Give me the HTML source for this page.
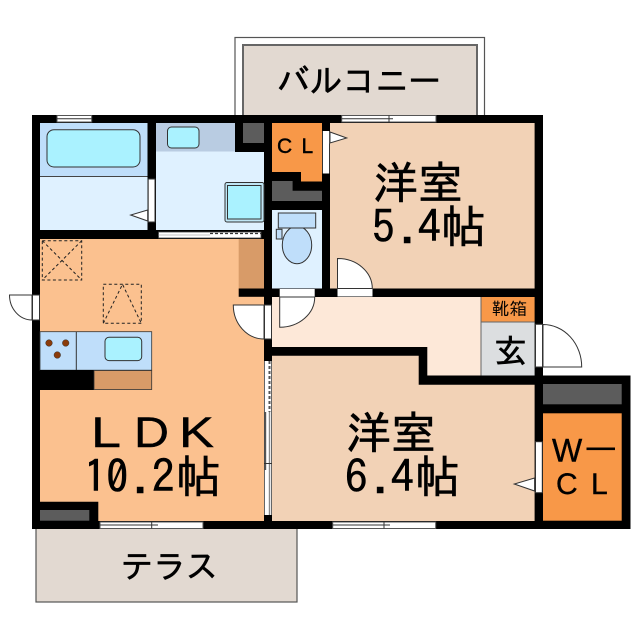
<!DOCTYPE html>
<html><head><meta charset="utf-8"><style>
html,body{margin:0;padding:0;background:#fff}
svg{display:block}
text{font-family:"IPAGothic","Liberation Sans","Noto Sans CJK JP",sans-serif;fill:#000}
.h{stroke:#000;stroke-width:.6}
.l{font-family:"Liberation Sans",sans-serif;stroke:#000;stroke-width:.4}
</style></head><body>
<svg width="640" height="640" viewBox="0 0 640 640" xmlns="http://www.w3.org/2000/svg">
<rect width="640" height="640" fill="#fff"/>
<!-- balcony -->
<rect x="235" y="37.5" width="249.5" height="80" fill="#fff" stroke="#555" stroke-width="1.2"/>
<rect x="243" y="45" width="234" height="75" fill="#e2d9d1" stroke="#666" stroke-width="2"/>
<!-- terrace -->
<rect x="36" y="525" width="261" height="77" fill="#e2d9d1" stroke="#555" stroke-width="1.2"/>
<!-- wall mass -->
<path d="M32 115H543V375.5H630.5V529H32Z" fill="#000"/>
<!-- rooms -->
<rect x="40" y="123" width="107.5" height="107" fill="#dff1ff"/>
<rect x="40" y="123" width="107.5" height="53" fill="#bfdefa"/>
<line x1="40" y1="176.5" x2="147.5" y2="176.5" stroke="#444" stroke-width="1"/>
<rect x="47" y="129.7" width="93" height="37.3" rx="7" fill="#aaf2ff" stroke="#333" stroke-width="1"/>
<rect x="156" y="123" width="108" height="107" fill="#dff1ff"/>
<rect x="156" y="123" width="79" height="28.5" fill="#b9cce2"/>
<rect x="235" y="123" width="29" height="29" fill="#000"/>
<rect x="243" y="123" width="21" height="20" fill="#5c5c5c"/>
<rect x="167.5" y="127" width="31.5" height="21" rx="4" fill="#aaf2ff" stroke="#333" stroke-width="1"/>
<rect x="225" y="182.5" width="39" height="39.5" rx="2" fill="#bfe6f5" stroke="#333" stroke-width="1"/>
<rect x="227.5" y="185.5" width="33.5" height="33.5" fill="#aaf2ff" stroke="#333" stroke-width="1"/>
<!-- CL -->
<path d="M272 123H322V181.5H301V172H272Z" fill="#f89848"/>
<path d="M272 181H292.6V190.7H322V201H272Z" fill="#5c5c5c"/>
<!-- toilet -->
<rect x="272" y="210" width="50" height="78.5" fill="#dff1ff"/>
<ellipse cx="297" cy="245" rx="14.7" ry="18.7" fill="#bfdefa" stroke="#333" stroke-width="1"/>
<rect x="278.3" y="213" width="37.4" height="15" fill="#bfdefa" stroke="#333" stroke-width="1"/>
<rect x="276.3" y="229.3" width="5.7" height="9.7" fill="#bfdefa" stroke="#333" stroke-width="1"/>
<!-- room 5.4 -->
<rect x="330" y="123" width="204.6" height="165.5" fill="#f2d2b6"/>
<!-- hall -->
<path d="M272 297H481V375.5H427.3V347H272Z" fill="#fde8d8"/>
<rect x="481" y="297" width="53.6" height="25" fill="#f89848"/>
<rect x="481" y="322" width="53.6" height="53.5" fill="#dcdee0"/>
<line x1="481" y1="297" x2="481" y2="375.5" stroke="#666" stroke-width="1"/>
<line x1="481" y1="322" x2="534.6" y2="322" stroke="#666" stroke-width="1"/>
<!-- LDK -->
<path d="M40 239H264V521H98.3V501.7H40Z" fill="#fbc18f"/>
<rect x="238.7" y="239" width="25.3" height="49.5" fill="#d89b68"/>
<rect x="238.7" y="288.5" width="30" height="8.3" fill="#000"/>
<rect x="40" y="510" width="49.3" height="10.7" fill="#5c5c5c"/>
<!-- kitchen -->
<rect x="40" y="331.7" width="111.7" height="38.5" fill="#bfdefa" stroke="#333" stroke-width="0.8"/>
<line x1="76.3" y1="331.7" x2="76.3" y2="370" stroke="#333" stroke-width="1"/>
<circle cx="49" cy="343" r="3.3" fill="#8a3b0a" stroke="#333" stroke-width=".5"/>
<circle cx="65.7" cy="343" r="3.3" fill="#8a3b0a" stroke="#333" stroke-width=".5"/>
<circle cx="57.3" cy="355" r="3.3" fill="#8a3b0a" stroke="#333" stroke-width=".5"/>
<rect x="105" y="337.3" width="36.7" height="23.3" rx="4" fill="#aaf2ff" stroke="#333" stroke-width="1"/>
<rect x="40" y="370" width="54" height="20" fill="#000"/>
<rect x="94" y="370.5" width="57.7" height="19" fill="#d89b68" stroke="#333" stroke-width=".8"/>
<!-- dashed -->
<g fill="none" stroke="#222" stroke-width="1" stroke-dasharray="3 2.5">
<rect x="42.3" y="240.7" width="39.4" height="39.3"/>
<path d="M42.3 240.7L81.7 280M81.7 240.7L42.3 280"/>
<rect x="103.3" y="284.3" width="38" height="39"/>
<path d="M103.3 323.3L122.5 284.3L141.3 323.3"/>
</g>
<!-- room 6.4 -->
<path d="M272 355.7H418.7V384.7H534.6V521H272Z" fill="#f2d2b6"/>
<!-- WCL -->
<rect x="543" y="384" width="78.7" height="20.3" fill="#5c5c5c"/>
<rect x="543" y="413.3" width="78.7" height="107.4" fill="#f89848"/>
<!-- windows -->
<g fill="#fff" stroke="#555" stroke-width="1">
<rect x="57" y="115.5" width="34.7" height="6.5"/>
<rect x="341.7" y="115.5" width="94.3" height="6.5"/>
<rect x="100" y="522" width="103" height="6.5"/>
<rect x="332.7" y="522" width="103" height="6.5"/>
</g>
<g stroke="#333" stroke-width="1" fill="none">
<path d="M57 118.7H91.7M341.7 118.7H393M389 115.5V122"/>
<path d="M100 525H158M151.7 522V528.5"/>
<path d="M332.7 525H390M384 522V528.5"/>
</g>
<!-- door gaps & doors -->
<g fill="#fff" stroke="#333" stroke-width="1">
<rect x="148.2" y="179" width="6.8" height="43"/>
<path d="M147.7 210L130.7 215L147.7 221Z"/>
<rect x="322.8" y="131" width="6.4" height="42.5" stroke="none"/>
<path d="M330 132L346.7 138L330 143Z"/>
<rect x="535.5" y="441.7" width="6.8" height="51"/>
<path d="M534.6 478L514.3 484L534.6 491Z"/>
<!-- entry door -->
<rect x="535.5" y="324.3" width="7" height="42.7"/>
<path d="M543 324.5A38.7 42.5 0 0 1 581.7 367H543Z"/>
<!-- room door -->
<rect x="337.5" y="289" width="35" height="7.5" stroke="none"/>
<path d="M337.5 258.5A34.5 30 0 0 1 372.3 288.5H337.5Z"/>
<!-- toilet door -->
<rect x="279.7" y="289" width="35" height="8" stroke="none"/>
<path d="M279.7 297V327.2A35 30 0 0 0 314.7 297Z"/>
<!-- LDK door -->
<rect x="264.5" y="305" width="7" height="34"/>
<path d="M233.3 305H264V339A30.7 34 0 0 1 233.3 305Z"/>
<!-- left door -->
<rect x="32.5" y="295" width="7" height="25"/>
<path d="M9.5 295H32V320A22.5 25 0 0 1 9.5 295Z"/>
</g>
<!-- wash sliding door -->
<rect x="158.5" y="232" width="102.5" height="6" fill="#fff" stroke="#444" stroke-width=".8"/>
<line x1="210" y1="233.5" x2="261" y2="233.5" stroke="#333" stroke-width="1.2" stroke-dasharray="3 2"/>
<line x1="158" y1="235" x2="210" y2="235" stroke="#888" stroke-width=".6"/>
<!-- ldk sliding door -->
<rect x="264.6" y="361" width="6.8" height="154" fill="#fff"/>
<line x1="269.5" y1="361" x2="269.5" y2="412" stroke="#555" stroke-width="2" stroke-dasharray="3 2"/>
<line x1="265.5" y1="412" x2="265.5" y2="470" stroke="#555" stroke-width="1.4"/>
<line x1="269.5" y1="412" x2="269.5" y2="515" stroke="#888" stroke-width="1.4"/>
<line x1="264" y1="463.5" x2="272" y2="463.5" stroke="#333" stroke-width="1"/>
<!-- labels -->
<text class="h" x="277" y="93" font-size="34" textLength="164" lengthAdjust="spacingAndGlyphs">バルコニー</text>
<text class="h" x="121" y="578" font-size="33" textLength="97" lengthAdjust="spacingAndGlyphs">テラス</text>
<text class="h" x="373" y="199" font-size="45">洋室</text>
<text class="h" x="372 400 418 441" y="243" font-size="45">5.4帖</text>
<text class="h" x="346 391" y="449" font-size="45">洋室</text>
<text class="h" x="345 373 391 415" y="493" font-size="45">6.4帖</text>
<text class="l" x="91" y="447" font-size="43" textLength="30" lengthAdjust="spacingAndGlyphs">L</text>
<text class="l" x="134" y="447" font-size="43" textLength="35" lengthAdjust="spacingAndGlyphs">D</text>
<text class="l" x="179" y="447" font-size="43" textLength="35" lengthAdjust="spacingAndGlyphs">K</text>
<text class="h" x="84 106 133 152 176" y="493" font-size="45">10.2帖</text>
<text class="l" x="277 301.5" y="153" font-size="21">CL</text>
<text class="l" x="552" y="461.5" font-size="32">W</text>
<rect x="586.5" y="447.5" width="28.5" height="2.6" fill="#000"/>
<text class="l" x="556 591" y="494" font-size="30">CL</text>
<text x="492" y="315" font-size="17.5">靴箱</text>
<text class="h" x="494" y="363" font-size="33">玄</text>
</svg>
</body></html>
